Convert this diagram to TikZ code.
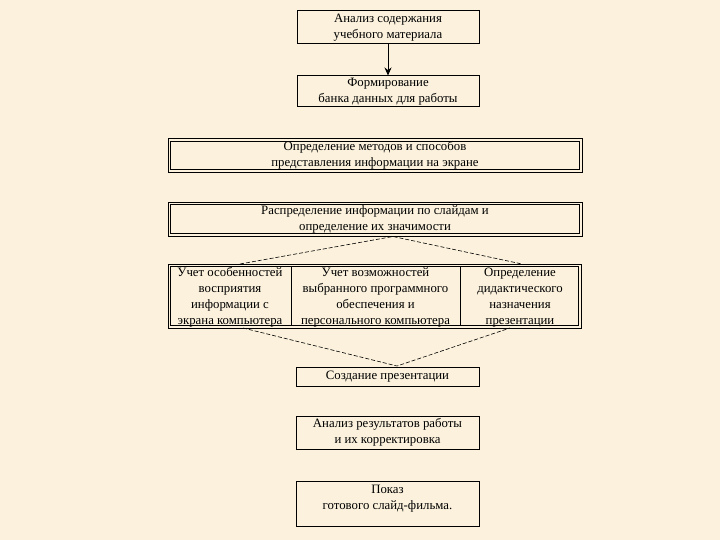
\documentclass[tikz,border=0pt]{standalone}
\usepackage{fontspec}
\setmainfont{Liberation Serif}
\usetikzlibrary{arrows.meta}
\definecolor{bgcream}{HTML}{FBF1DC}
\tikzset{
  box/.style={draw=black, line width=1pt, fill=bgcream, align=center, inner sep=1pt,
    font=\fontsize{12.8}{16}\selectfont},
  dbox/.style={box, line width=0.9pt},
  inner/.style={line width=0.9pt},
  cell/.style={align=center, inner sep=0pt, font=\fontsize{12.8}{16}\selectfont},
  conn/.style={line width=0.6pt, dash pattern=on 4pt off 2pt},
  arr/.style={line width=0.9pt, -{Stealth[length=8pt,width=7pt]}}
}
\begin{document}
\begin{tikzpicture}[x=1pt,y=-1pt]
\fill[bgcream] (0,0) rectangle (720,540);
\useasboundingbox (0,0) rectangle (720,540);

\node[box, minimum width=182, minimum height=33] (b1) at (388,27.5)
  {Анализ содержания\\учебного материала};
\node[box, minimum width=182, minimum height=31] (b2) at (388,91.5)
  {Формирование\\банка данных для работы};
\node[dbox, minimum width=414, minimum height=34] (b3) at (375,155.5)
  {Определение методов и способов\\представления информации на экране};
\node[dbox, minimum width=414, minimum height=34] (b4) at (375,219)
  {Распределение информации по слайдам и\\определение их значимости};
\node[dbox, minimum width=413, minimum height=64] (b5) at (374.5,296) {};
\foreach \b in {b3,b4,b5}
  \draw[inner] ([shift={(3,3)}]\b.north west) rectangle ([shift={(-3,-3)}]\b.south east);
\draw[line width=0.9pt] (291,267) -- (291,325);
\draw[line width=0.9pt] (460,267) -- (460,325);
\node[cell] (c1) at (230,297.5) {Учет особенностей\\восприятия\\информации с\\экрана компьютера};
\node[cell] (c2) at (375.5,297.5) {Учет возможностей\\выбранного программного\\обеспечения и\\персонального компьютера};
\node[cell] (c3) at (520,297.5) {Определение\\дидактического\\назначения\\презентации};
\node[box, minimum width=183, minimum height=19] (b6) at (387.5,376.5)
  {Создание презентации};
\node[box, minimum width=183, minimum height=33] (b7) at (387.5,432.5)
  {Анализ результатов работы\\и их корректировка};
\node[box, minimum width=183, minimum height=45, text depth=13pt] (b8) at (387.5,503.5)
  {Показ\\готового слайд-фильма.};

\draw[arr] (b1.south) -- (b2.north);

\coordinate (ta) at (393,236.5);
\coordinate (tl) at (240,264);
\coordinate (tr) at (522,264);
\coordinate (bl) at (243,328);
\coordinate (br) at (510,328);
\coordinate (ba) at (397,366);
\draw[conn] (tl) -- (ta) -- (tr);
\draw[conn] (bl) -- (ba) -- (br);
\end{tikzpicture}
\end{document}
